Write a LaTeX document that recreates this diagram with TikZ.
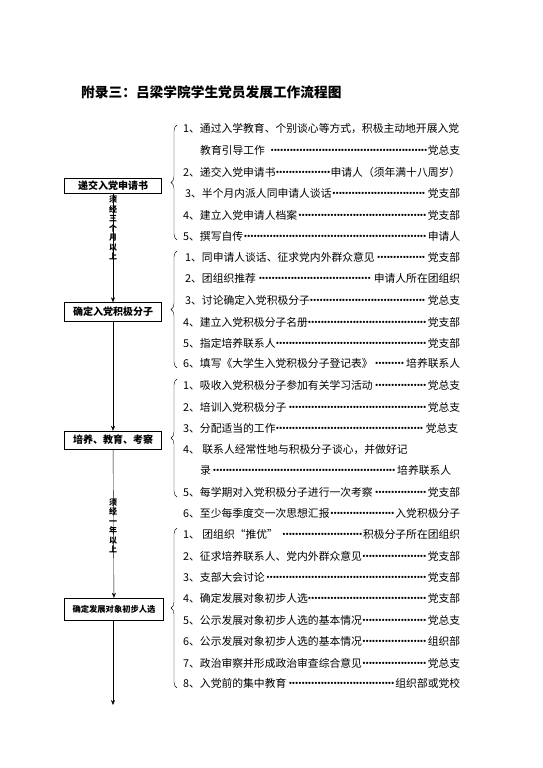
\documentclass[tikz,border=0pt]{standalone}
\usepackage{fontspec}
\setmainfont{Noto Sans CJK SC}
\usepackage{tikz}
\usetikzlibrary{positioning,arrows.meta,decorations.pathreplacing}

% dotted leader between a step and who is in charge
\newcommand\dotlead{\leaders\hbox to 3.2pt{\hss·\hss}\hfill}
\newcommand\stepline[3]{\makebox[#1pt][l]{#2\dotlead#3}}

\begin{document}
\begin{tikzpicture}[x=1pt,y=-1pt,
  stagebox/.style={draw,thin,minimum width=97pt,inner sep=1pt,font=\bfseries\fontsize{10}{12}\selectfont},
  txt/.style={anchor=west,inner sep=0pt,font=\fontsize{10.8}{13}\selectfont},
  vlabel/.style={align=center,inner sep=0pt,font=\bfseries\fontsize{8}{9.5}\selectfont},
  brc/.style={decorate,decoration={brace,amplitude=6pt}},
  flow/.style={-{Stealth[length=5pt,width=4pt]}}]
\useasboundingbox (0,0) rectangle (543,768);

% title
\node[anchor=west,inner sep=0pt,font=\bfseries\fontsize{13.7}{16}\selectfont] (title) at (81,92) {附录三：吕梁学院学生党员发展工作流程图};

% stages
\node[stagebox,minimum height=15pt] (b1) at (113,186) {递交入党申请书};
\node[stagebox,minimum height=19pt] (b2) at (113,312) {确定入党积极分子};
\node[stagebox,minimum height=18pt] (b3) at (113,440) {培养、教育、考察};
\node[stagebox,minimum height=22pt,minimum width=99pt,font=\bfseries\fontsize{8.3}{10}\selectfont] (b4) at (114,609) {确定发展对象初步人选};
\coordinate (end) at (113,705);

\draw[flow] (b1) -- (b2);
\draw[flow] (b2) -- (b3);
\draw[flow] (b3) -- (b4);
\draw[flow] (b4.south -| end) -- (end);

\node[vlabel] (v1) at (113,228) {须\\经\\三\\个\\月\\以\\上};
\node[vlabel] (v2) at (113,526) {须\\经\\一\\年\\以\\上};

% braces
\draw[brc] (177,240) -- (177,125);
\draw[brc] (177,368) -- (177,251);
\draw[brc] (177,497) -- (177,379);
\draw[brc] (177,688) -- (177,528);

% group 1
\node[txt] (a0) at (183,128) {1、通过入学教育、个别谈心等方式，积极主动地开展入党};
\foreach \y/\xs/\lt/\rt [count=\i] in {
  150/200/教育引导工作\ /党总支,
  172/183/2、递交入党申请书/申请人（须年满十八周岁）,
  193/185/3、半个月内派人同申请人谈话/党支部,
  215/183/4、建立入党申请人档案/党支部,
  236/183/5、撰写自传/申请人}
{
  \pgfmathsetmacro\w{460-\xs}
  \node[txt] (a\i) at (\xs,\y) {\stepline{\w}{\lt}{\rt}};
}

% group 2
\foreach \y/\xs/\lt/\rt [count=\i] in {
  257/185/1、同申请人谈话、征求党内外群众意见/党支部,
  278/185/2、团组织推荐/申请人所在团组织,
  300/185/3、讨论确定入党积极分子/党总支,
  322/183/4、建立入党积极分子名册/党支部,
  343/183/5、指定培养联系人/党支部,
  363/183/6、填写《大学生入党积极分子登记表》/培养联系人}
{
  \pgfmathsetmacro\w{460-\xs}
  \node[txt] (c\i) at (\xs,\y) {\stepline{\w}{\lt}{\rt}};
}

% group 3
\node[txt] (d4) at (183,450) {4、\ 联系人经常性地与积极分子谈心，并做好记};
\foreach \y/\xs/\xe/\lt/\rt [count=\i] in {
  385/183/460/1、吸收入党积极分子参加有关学习活动/党总支,
  407/183/460/2、培训入党积极分子/党总支,
  428/183/458/3、分配适当的工作/党总支,
  470/200/451/录/培养联系人,
  492/183/460/5、每学期对入党积极分子进行一次考察/党支部,
  513/183/460/6、至少每季度交一次思想汇报/入党积极分子}
{
  \pgfmathsetmacro\w{\xe-\xs}
  \node[txt] (d\i) at (\xs,\y) {\stepline{\w}{\lt}{\rt}};
}

% group 4
\foreach \y/\lt/\rt [count=\i] in {
  534/1、\ 团组织“推优”\ /积极分子所在团组织,
  556/2、征求培养联系人、党内外群众意见/党支部,
  577/3、支部大会讨论/党支部,
  598/4、确定发展对象初步人选/党支部,
  620/5、公示发展对象初步人选的基本情况/党总支,
  641/6、公示发展对象初步人选的基本情况/组织部,
  663/7、政治审察并形成政治审查综合意见/党总支,
  683/8、入党前的集中教育/组织部或党校}
{
  \node[txt] (e\i) at (183,\y) {\stepline{277}{\lt}{\rt}};
}
\end{tikzpicture}
\end{document}
